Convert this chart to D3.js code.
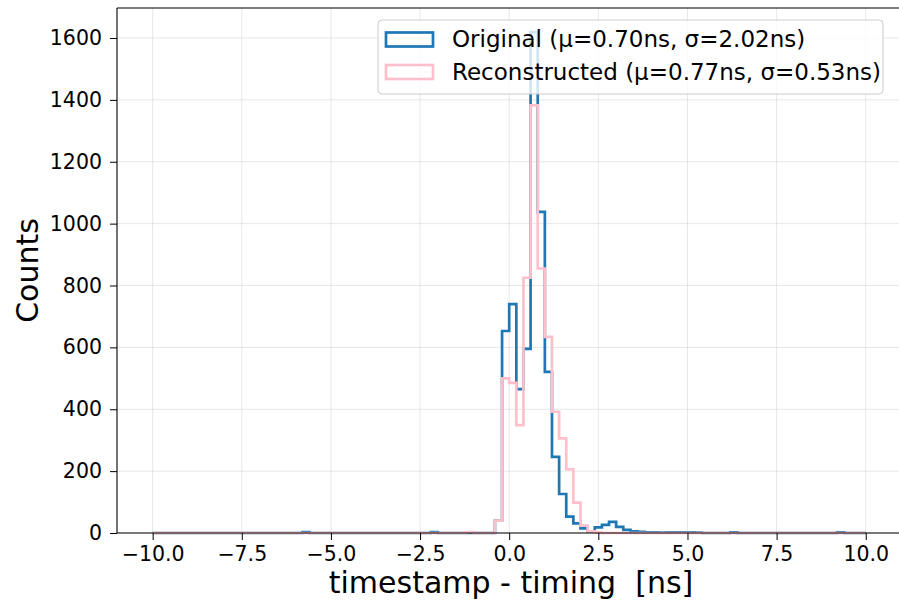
<!DOCTYPE html>
<html>
<head>
<meta charset="utf-8">
<script src="https://cdn.jsdelivr.net/npm/d3@7"></script>
<style>
  html, body { margin: 0; padding: 0; background: #fff; }
  svg { display: block; font-family: "DejaVu Sans", sans-serif; }
</style>
</head>
<body>
<svg id="chart" width="899" height="601"></svg>
<script>
// ---------- data ----------
// histogram bins: 100 bins of width 0.2 ns from -10 to 10
const binStart = -10;
const binWidth = 0.2;
const xTicks = [-10, -7.5, -5, -2.5, 0, 2.5, 5, 7.5, 10];
const yTicks = [0, 200, 400, 600, 800, 1000, 1200, 1400, 1600];

// Original counts (bins 0..99)
const originalCounts = [
  0, 0, 0, 0, 0, 0, 0, 0, 0, 0,
  0, 0, 0, 0, 0, 0, 0, 0, 0, 0,
  0, 3, 0, 0, 0, 0, 0, 0, 0, 0,
  0, 0, 0, 0, 0, 0, 0, 0, 0, 3,
  0, 0, 0, 0, 0, 0, 0, 0, 40, 653,
  740, 465, 595, 1619, 1038, 521, 246, 126, 53, 31,
  15, 5, 18, 26, 36, 20, 10, 5, 4, 2,
  2, 1, 2, 2, 2, 2, 1, 0, 0, 0,
  0, 2, 0, 0, 0, 0, 0, 0, 0, 0,
  0, 0, 0, 0, 0, 0, 2, 0, 0, 0
];
// Reconstructed counts (bins 0..99)
const reconstructedCounts = [
  0, 0, 0, 0, 0, 0, 0, 0, 0, 0,
  0, 0, 0, 0, 0, 0, 0, 0, 0, 0,
  0, 0, 0, 0, 0, 0, 0, 0, 0, 0,
  0, 0, 0, 0, 0, 0, 0, 0, 0, 0,
  0, 0, 0, 0, 3, 0, 0, 0, 40, 500,
  485, 349, 825, 1382, 855, 634, 392, 306, 206, 98,
  24, 5, 2, 0, 0, 0, 0, 0, 0, 0,
  0, 0, 0, 0, 0, 0, 0, 0, 0, 0,
  0, 0, 0, 0, 0, 0, 0, 0, 0, 0,
  0, 0, 0, 0, 0, 0, 0, 0, 0, 0
];
const seriesNames = ["Original (μ=0.70ns, σ=2.02ns)", "Reconstructed (μ=0.77ns, σ=0.53ns)"];
const seriesColors = ["#1f77b4", "pink"];

// ---------- layout ----------
const svg = d3.select("#chart");
const pLeft = 117, pTop = 8, pBottom = 533, pRight = 901.4;
const x = d3.scaleLinear().domain([-11, 11]).range([pLeft, pRight]);
const y = d3.scaleLinear().domain([0, 1697]).range([pBottom, pTop]);

// grid
const grid = svg.append("g");
grid.selectAll("line.gx").data(xTicks).enter().append("line")
  .attr("x1", d => x(d)).attr("x2", d => x(d))
  .attr("y1", pTop).attr("y2", pBottom)
  .attr("stroke", "#b0b0b0").attr("stroke-opacity", 0.3).attr("stroke-width", 1);
grid.selectAll("line.gy").data(yTicks).enter().append("line")
  .attr("x1", pLeft).attr("x2", 899)
  .attr("y1", d => y(d)).attr("y2", d => y(d))
  .attr("stroke", "#b0b0b0").attr("stroke-opacity", 0.3).attr("stroke-width", 1);

// step outlines
function stepPoints(counts) {
  const pts = [[binStart, 0]];
  counts.forEach((c, i) => {
    const e0 = binStart + i * binWidth, e1 = binStart + (i + 1) * binWidth;
    pts.push([e0, c]); pts.push([e1, c]);
  });
  pts.push([binStart + counts.length * binWidth, 0]);
  return pts;
}
const line = d3.line().x(d => x(d[0])).y(d => y(d[1]));
[originalCounts, reconstructedCounts].forEach((counts, k) => {
  svg.append("path")
    .attr("d", line(stepPoints(counts)))
    .attr("fill", "none")
    .attr("stroke", seriesColors[k])
    .attr("stroke-width", 2.7)
    .attr("stroke-linejoin", "miter");
});

// axes
const xAxis = d3.axisBottom(x).tickValues(xTicks).tickSize(7).tickPadding(6)
  .tickFormat(d => d3.format(".1f")(d).replace("-", "\u2212"));
const gx = svg.append("g").attr("transform", `translate(0,${pBottom})`).call(xAxis);
const yAxis = d3.axisLeft(y).tickValues(yTicks).tickSize(7).tickPadding(8)
  .tickFormat(d3.format("d"));
const gy = svg.append("g").attr("transform", `translate(${pLeft},0)`).call(yAxis);
[gx, gy].forEach(g => {
  g.selectAll("text").attr("font-size", 20.5).attr("fill", "#000")
    .attr("font-family", "DejaVu Sans");
  g.selectAll(".tick line").attr("stroke", "#000").attr("stroke-width", 1);
  g.select(".domain").remove();
});

// spines
svg.append("line").attr("x1", pLeft).attr("x2", pLeft).attr("y1", pTop).attr("y2", pBottom)
  .attr("stroke", "#000").attr("stroke-width", 1.1);
svg.append("line").attr("x1", pLeft).attr("x2", 899).attr("y1", pBottom).attr("y2", pBottom)
  .attr("stroke", "#000").attr("stroke-width", 1.1);
svg.append("line").attr("x1", pLeft).attr("x2", 899).attr("y1", pTop).attr("y2", pTop)
  .attr("stroke", "#000").attr("stroke-width", 1.1);

// axis labels
svg.append("text").attr("x", 511).attr("y", 593)
  .attr("text-anchor", "middle").attr("font-size", 30).attr("fill", "#000")
  .style("white-space", "pre")
  .text("timestamp - timing  [ns]");
svg.append("text")
  .attr("transform", `translate(38,${(pTop + pBottom) / 2}) rotate(-90)`)
  .attr("text-anchor", "middle").attr("font-size", 30).attr("fill", "#000")
  .text("Counts");

// legend
const lg = svg.append("g");
lg.append("rect").attr("x", 378).attr("y", 20).attr("width", 505).attr("height", 74)
  .attr("rx", 4).attr("fill", "#fff").attr("fill-opacity", 0.8)
  .attr("stroke", "#cccccc").attr("stroke-width", 1);
seriesNames.forEach((name, i) => {
  const cy = 39.5 + i * 32.5;
  lg.append("rect").attr("x", 386).attr("y", cy - 7).attr("width", 47).attr("height", 14)
    .attr("fill", "none").attr("stroke", seriesColors[i]).attr("stroke-width", 2.7);
  lg.append("text").attr("x", 452).attr("y", cy + 7.5)
    .attr("font-size", 23).attr("fill", "#000").text(name);
});
</script>
</body>
</html>
